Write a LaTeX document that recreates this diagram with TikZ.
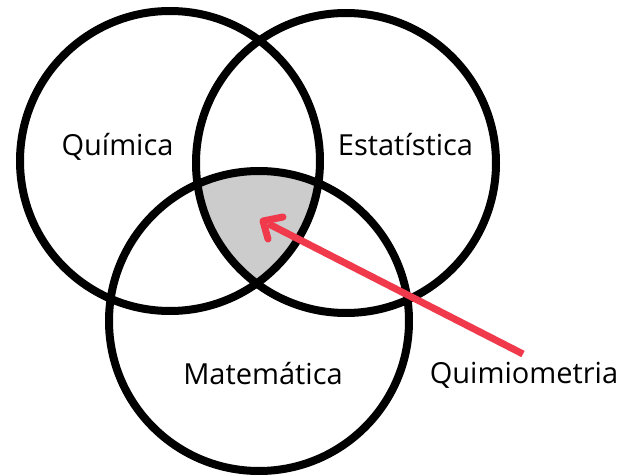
\documentclass[tikz,border=0pt]{standalone}
\usepackage{fontspec}
\usetikzlibrary{calc}
\setmainfont{Open Sans}
\definecolor{arrowred}{RGB}{240,58,76}
\definecolor{lapgray}{RGB}{204,204,204}
\begin{document}
\begin{tikzpicture}[x=1pt,y=-1pt,
  ring/.style={draw=black,line width=8pt},
  lbl/.style={font=\fontsize{29}{34}\selectfont,anchor=base,inner sep=0pt}]
\useasboundingbox (0,0) rectangle (622,476);
\coordinate (cq) at (170,161);
\coordinate (ce) at (346,163);
\coordinate (cm) at (259,321);
\begin{scope}
  \clip (cq) circle[radius=150];
  \clip (ce) circle[radius=150];
  \fill[lapgray] (cm) circle[radius=150];
\end{scope}
\draw[ring] (cq) circle[radius=150];
\draw[ring] (ce) circle[radius=150];
\draw[ring] (cm) circle[radius=150];
\node[lbl] (quim) at (117.5,156) {Química};
\node[lbl] (est) at (405.5,156) {Estatística};
\node[lbl] (mat) at (263,384) {Matemática};
\node[lbl] (qm) at (524,383) {Quimiometria};
\coordinate (tail) at (523,354);
\coordinate (tip) at (263,221);
\draw[arrowred,line width=7pt] (tail) -- ($(tip)!6pt!(tail)$);
\draw[arrowred,line width=7pt,line cap=round,line join=round] (283,217) -- (tip) -- (268,239);
\end{tikzpicture}
\end{document}
